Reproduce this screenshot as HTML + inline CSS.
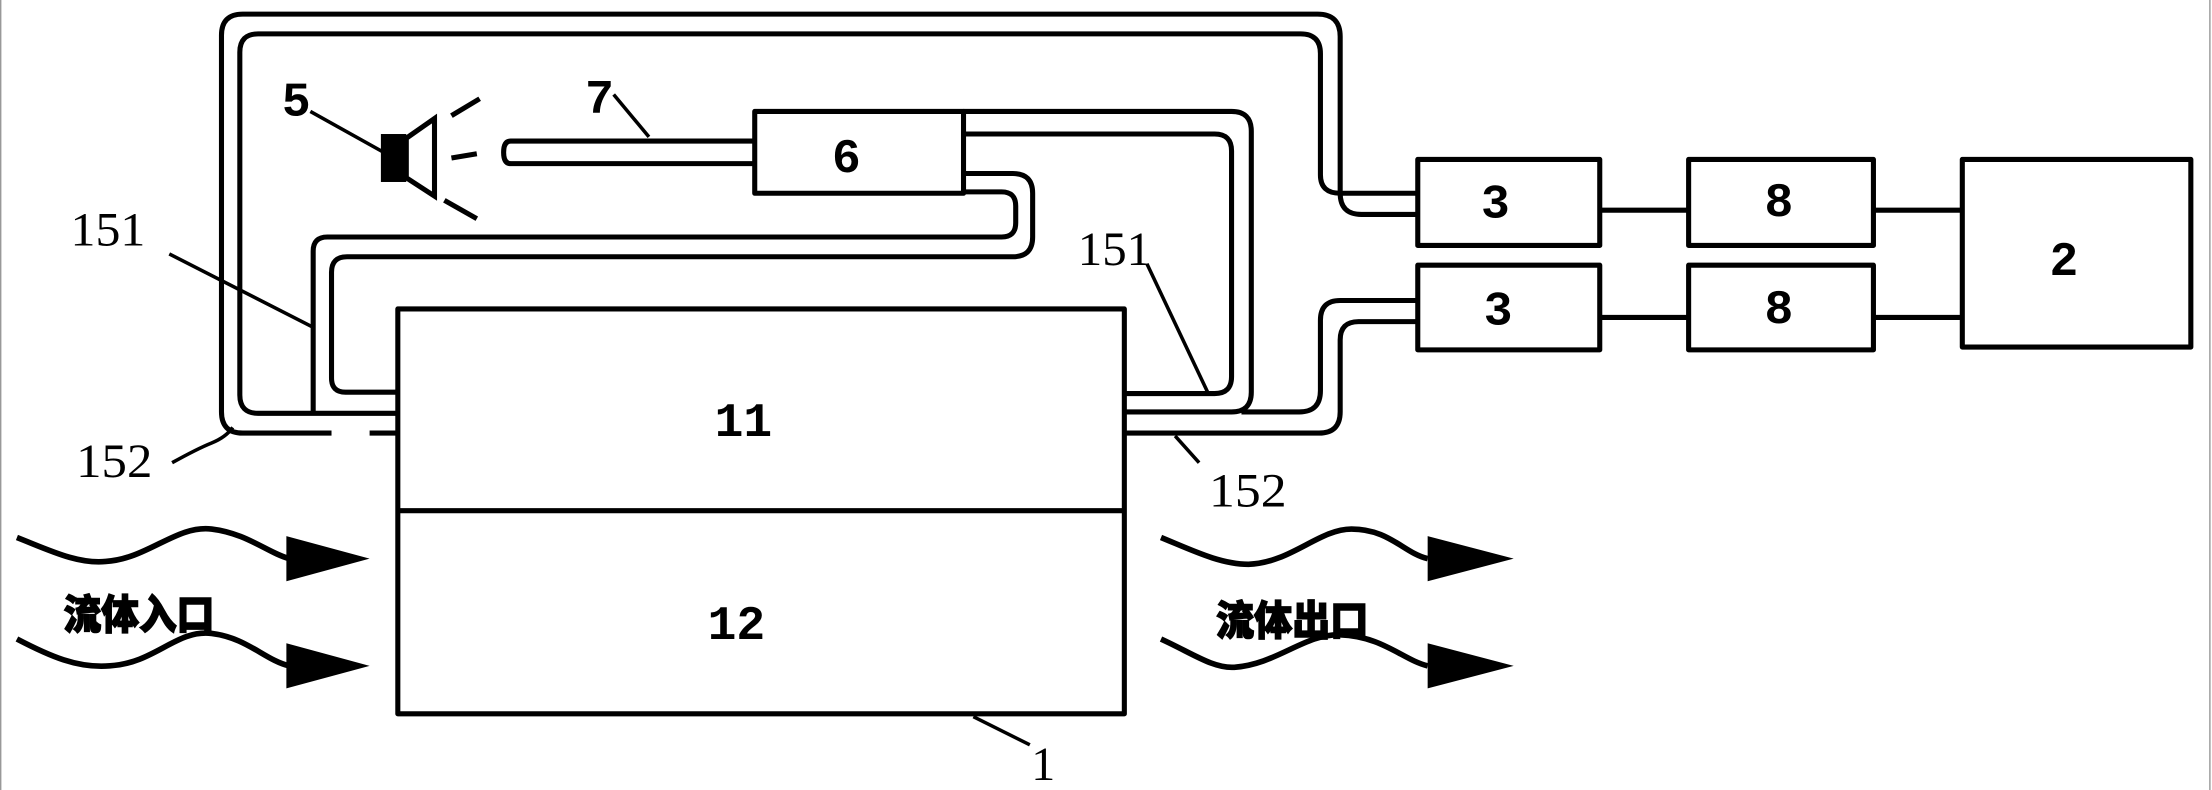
<!DOCTYPE html>
<html><head><meta charset="utf-8"><style>
html,body{margin:0;padding:0;background:#fff;}
svg{display:block;}
.n{font-family:"Liberation Mono",monospace;font-weight:bold;font-size:34px;fill:#000;text-anchor:middle;}
.l{font-family:"Liberation Serif",serif;font-size:34px;fill:#000;}
.c{font-family:"Liberation Sans","Noto Sans CJK SC",sans-serif;font-weight:900;font-size:29px;fill:#000;stroke:#000;stroke-width:1;}
</style></head><body>
<svg width="2212" height="790" viewBox="0 0 1568 560" preserveAspectRatio="none" xmlns="http://www.w3.org/2000/svg">
<rect x="0" y="0" width="1568" height="560" fill="#fff"/>
<line x1="0.5" y1="0" x2="0.5" y2="560" stroke="#999" stroke-width="1"/>
<line x1="1566.5" y1="0" x2="1566.5" y2="560" stroke="#999" stroke-width="1"/>
<g fill="none" stroke="#000" stroke-width="3.6" stroke-linejoin="round">
<path d="M235,307 L172,307 Q157,307 157,292 L157,25 Q157,10 172,10 L934,10 Q950,10 950,26 L950,137 Q950,152 965,152 L1005,152"/>
<path d="M262,307 L282,307"/>
<path d="M282,293 L183,293 Q170,293 170,280 L170,37 Q170,24 183,24 L922,24 Q936,24 936,38 L936,124 Q936,137 950,137 L1005,137"/>
<path d="M683,136 L710,136 Q720,136 720,146 L720,158 Q720,168 710,168 L232,168 Q222,168 222,178 L222,293"/>
<path d="M683,123 L718,123 Q732,123 732,137 L732,168 Q732,182 718,182 L246,182 Q235,182 235,193 L235,268 Q235,278 245,278 L282,278"/>
<rect x="535" y="79" width="148" height="58"/>
<path d="M535,100 L362,100 Q357,100 357,108 Q357,116 362,116 L535,116"/>
<path d="M683,95 L861,95 Q873,95 873,107 L873,267 Q873,279 861,279 L797,279"/>
<path d="M683,79 L873,79 Q887,79 887,93 L887,278 Q887,292 873,292 L797,292"/>
<path d="M880,292 L921,292 Q936,292 936,277 L936,227 Q936,213 950,213 L1005,213"/>
<path d="M797,307 L935,307 Q950,307 950,292 L950,241 Q950,228 963,228 L1005,228"/>
<rect x="282" y="219" width="515" height="287"/>
<line x1="282" y1="362" x2="797" y2="362"/>
<rect x="1005" y="113" width="129" height="61"/>
<rect x="1197" y="113" width="131" height="61"/>
<rect x="1005" y="188" width="129" height="60"/>
<rect x="1197" y="188" width="131" height="60"/>
<rect x="1391" y="113" width="162" height="133"/>
<line x1="1134" y1="149" x2="1197" y2="149"/>
<line x1="1328" y1="149" x2="1391" y2="149"/>
<line x1="1134" y1="225" x2="1197" y2="225"/>
<line x1="1328" y1="225" x2="1391" y2="225"/>
<g stroke-width="2.5">
<line x1="120" y1="180" x2="222" y2="232"/>
<path d="M122,328 Q140,318 150,314 Q160,310 165,303"/>
<line x1="813" y1="187" x2="857" y2="280"/>
<line x1="833" y1="309" x2="850" y2="328"/>
<line x1="220" y1="79" x2="272" y2="108"/>
<line x1="435" y1="67" x2="460" y2="97"/>
<line x1="690" y1="508" x2="730" y2="528"/>
</g>
<line x1="320" y1="82" x2="340" y2="70"/>
<line x1="320" y1="112" x2="338" y2="109"/>
<line x1="315" y1="142" x2="338" y2="155"/>
<g stroke-width="4">
<path d="M12,381 C35,390 55,400 75,398 C105,396 125,372 150,375 C175,378 190,392 205,396"/>
<path d="M12,453 C35,465 55,474 78,472 C110,470 125,446 150,449 C175,452 188,468 205,472"/>
<path d="M823,381 C845,390 865,400 885,400 C915,399 935,375 958,375 C985,375 995,392 1012,396"/>
<path d="M823,453 C845,463 860,474 875,473 C905,471 925,449 950,450 C980,451 995,468 1012,472"/>
</g>
</g>
<rect x="270" y="95" width="18" height="34" fill="#000"/>
<path d="M288,98 L308,84 L308,139 L288,126 Z" fill="none" stroke="#000" stroke-width="3.6"/>
<g fill="#000">
<path d="M203,380 L262,396 L203,412 Z"/>
<path d="M203,456 L262,472 L203,488 Z"/>
<path d="M1012,380 L1073,396 L1012,412 Z"/>
<path d="M1012,456 L1073,472 L1012,488 Z"/>
</g>
<text class="n" x="600" y="122">6</text>
<text class="n" x="1060" y="154">3</text>
<text class="n" x="1062" y="230">3</text>
<text class="n" x="1261" y="153">8</text>
<text class="n" x="1261" y="229">8</text>
<text class="n" x="1463" y="195">2</text>
<text class="n" x="527" y="309">11</text>
<text class="n" x="522" y="453">12</text>
<text class="n" x="210" y="82">5</text>
<text class="n" x="425" y="80">7</text>
<text class="l" x="50" y="174" textLength="53" lengthAdjust="spacingAndGlyphs">151</text>
<text class="l" x="54" y="338" textLength="54" lengthAdjust="spacingAndGlyphs">152</text>
<text class="l" x="764" y="188" textLength="52" lengthAdjust="spacingAndGlyphs">151</text>
<text class="l" x="857" y="359" textLength="55" lengthAdjust="spacingAndGlyphs">152</text>
<text class="l" x="731" y="553">1</text>
<text class="c" x="45" y="446" textLength="107" lengthAdjust="spacingAndGlyphs">流体入口</text>
<text class="c" x="862" y="450" textLength="108" lengthAdjust="spacingAndGlyphs">流体出口</text>
</svg>
</body></html>
